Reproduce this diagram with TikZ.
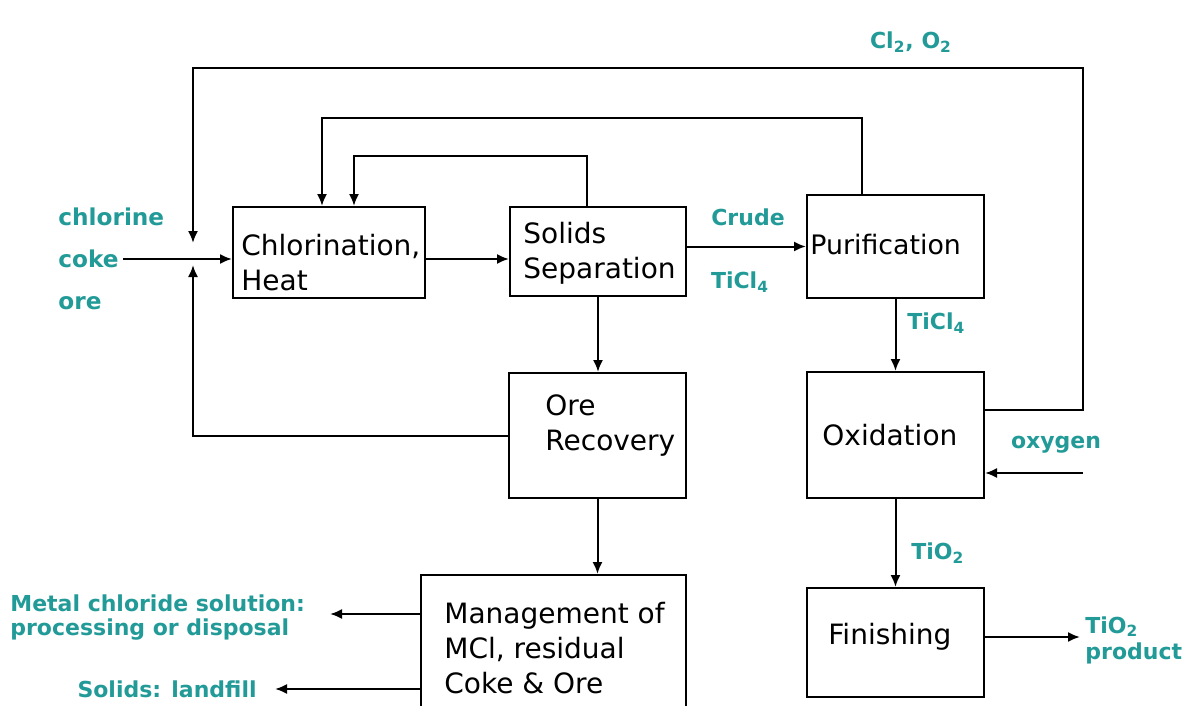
\documentclass[tikz,border=0pt]{standalone}
\usepackage{fontspec}
\setmainfont{DejaVu Sans}
\usetikzlibrary{arrows.meta,calc}
\definecolor{lbl}{RGB}{34,155,152}
\begin{document}
\begin{tikzpicture}[x=0.5pt,y=-0.5pt,
  box/.style={draw,line width=1pt,inner sep=0pt},
  btxt/.style={anchor=west,inner sep=0pt,align=left,font=\fontsize{14}{17.5}\selectfont},
  ltxt/.style={inner sep=0pt,align=left,text=lbl,font=\bfseries\fontsize{11}{12}\selectfont},
  arr/.style={line width=1pt,-{Latex[length=6pt,width=5pt]}},
  ln/.style={line width=1pt}]
\useasboundingbox (0,0) rectangle (1189,706);
\clip (0,0) rectangle (1189,706);
\fill[white] (0,0) rectangle (1189,706);
% boxes
\node[box,minimum width=96pt,minimum height=45.5pt] (chl) at (329,252.5) {};
\node[box,minimum width=88pt,minimum height=44.5pt] (sol) at (598,251.5) {};
\node[box,minimum width=88.5pt,minimum height=51.5pt] (pur) at (895.5,246.5) {};
\node[box,minimum width=88.5pt,minimum height=62.5pt] (ore) at (597.5,435.5) {};
\node[box,minimum width=88.5pt,minimum height=63pt] (oxi) at (895.5,435) {};
\node[box,minimum width=88.5pt,minimum height=54.5pt] (fin) at (895.5,642.5) {};
\node[box,minimum width=132.5pt,minimum height=77.5pt] (man) at (553.5,652.5) {};
% box texts
\node[btxt] (tchl) at (241,262.5) {Chlorination,\\Heat};
\node[btxt] (tsol) at (523,253.5) {Solids\\Separation};
\node[btxt,font=\fontsize{13.4}{17.5}\selectfont] (tpur) at (810,245) {Purification};
\node[btxt] (tore) at (545,426) {Ore\\Recovery};
\node[btxt] (toxi) at (822,435) {Oxidation};
\node[btxt] (tfin) at (828,637) {Finishing};
\node[btxt] (tman) at (444,648) {Management of\\MCl, residual\\Coke \& Ore};
% labels
\node[ltxt,anchor=west,font=\bfseries\fontsize{11.6}{12}\selectfont] (chlorine) at (58,217) {chlorine};
\node[ltxt,anchor=west,font=\bfseries\fontsize{11.6}{12}\selectfont] (coke) at (58,259) {coke};
\node[ltxt,anchor=west,font=\bfseries\fontsize{11.6}{12}\selectfont] (orein) at (58,303) {ore};
\node[ltxt] (crude) at (748,217) {Crude};
\node[ltxt] (ticla) at (740,282) {TiCl\textsubscript{4}};
\node[ltxt,anchor=west] (ticlb) at (907,323) {TiCl\textsubscript{4}};
\node[ltxt] (clo) at (911,42) {Cl\textsubscript{2}, O\textsubscript{2}};
\node[ltxt] (oxy) at (1056,445) {oxygen};
\node[ltxt,anchor=west] (tio) at (911,553) {TiO\textsubscript{2}};
\node[ltxt,anchor=west,font=\bfseries\fontsize{11}{13}\selectfont] (tiop) at (1085,640) {TiO\textsubscript{2}\\product};
\node[ltxt,anchor=west] (mcl) at (10,618) {Metal chloride solution:\\processing or disposal};
\node[ltxt,anchor=east] (land) at (257,689) {Solids: landfill};
% helper coordinates
\coordinate (jn) at (193,259);
\coordinate (rt) at (1083,68);
\coordinate (oxin) at (1083,473);
\coordinate (prod) at (1080,637);
\coordinate (mcs) at (330,614);
\coordinate (sll) at (275,689);
% connectors
\draw[arr] ([xshift=2pt]coke.east) -- (coke.east -| chl.west);
\draw[arr] (coke.east -| chl.east) -- (coke.east -| sol.west);
\draw[arr] (pur.west -| sol.east) -- (pur.west);
\draw[arr] ($(sol.north)+(-11,0)$) -- ++(0,-50) -| ($(chl.north)+(25,0)$);
\draw[arr] ($(pur.north)+(-33.5,0)$) -- ++(0,-76) -| ($(chl.north)+(-7,0)$);
\draw[arr] ($(oxi.east)+(0,-25)$) -| (rt) -| ($(jn)+(0,-16)$);
\draw[arr] ($(ore.west)+(0,0.5)$) -| ($(jn)+(0,6)$);
\draw[arr] (sol.south) -- (sol.south |- ore.north);
\draw[arr] (ore.south) -- (ore.south |- man.north);
\draw[arr] (pur.south) -- (pur.south |- oxi.north);
\draw[arr] (oxi.south) -- (oxi.south |- fin.north);
\draw[arr] (oxin) -- (oxin -| oxi.east);
\draw[arr] (prod -| fin.east) -- (prod);
\draw[arr] (mcs -| man.west) -- (mcs);
\draw[arr] (sll -| man.west) -- (sll);
\end{tikzpicture}
\end{document}
